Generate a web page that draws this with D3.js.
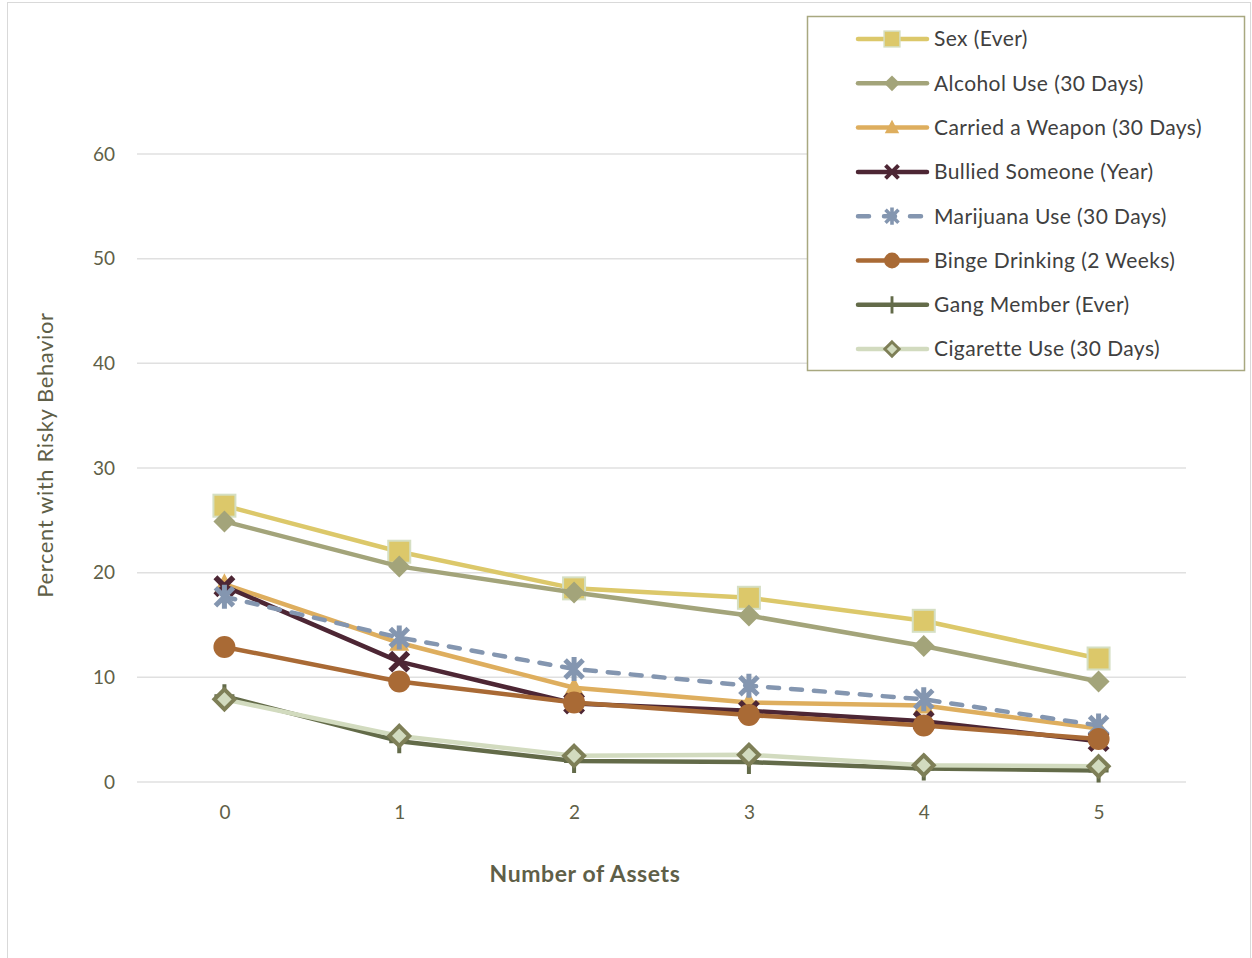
<!DOCTYPE html>
<html>
<head>
<meta charset="utf-8">
<script src="https://cdn.jsdelivr.net/npm/d3@7"></script>
<style>
  body { margin: 0; background: #fff; }
  svg { display: block; }
  text { font-family: Lato, "Open Sans", sans-serif; }
</style>
</head>
<body>
<svg id="chart"></svg>
<script>
var width = 1252;
var height = 958;

// data
var assets = [0, 1, 2, 3, 4, 5];
var yTicks = [0, 10, 20, 30, 40, 50, 60];

var sexEver = [26.4, 22.0, 18.5, 17.6, 15.4, 11.8];
var alcoholUse = [24.9, 20.6, 18.1, 15.9, 13.0, 9.6];
var carriedWeapon = [18.9, 13.3, 9.0, 7.6, 7.3, 5.1];
var bulliedSomeone = [18.7, 11.5, 7.5, 6.8, 5.8, 3.9];
var marijuanaUse = [17.7, 13.8, 10.8, 9.2, 7.9, 5.4];
var bingeDrinking = [12.9, 9.6, 7.6, 6.4, 5.4, 4.1];
var gangMember = [8.2, 3.9, 2.0, 1.9, 1.3, 1.1];
var cigaretteUse = [7.9, 4.4, 2.5, 2.6, 1.6, 1.5];

var series = [
    {name: "Sex (Ever)", values: sexEver, color: "#dcc86a", marker: "square"},
    {name: "Alcohol Use (30 Days)", values: alcoholUse, color: "#a3a47a", marker: "diamond"},
    {name: "Carried a Weapon (30 Days)", values: carriedWeapon, color: "#deae5e", marker: "triangle"},
    {name: "Bullied Someone (Year)", values: bulliedSomeone, color: "#4d2634", marker: "x"},
    {name: "Marijuana Use (30 Days)", values: marijuanaUse, color: "#8496b0", marker: "star", dash: true},
    {name: "Binge Drinking (2 Weeks)", values: bingeDrinking, color: "#a96a35", marker: "circle"},
    {name: "Gang Member (Ever)", values: gangMember, color: "#636b49", marker: "plus"},
    {name: "Cigarette Use (30 Days)", values: cigaretteUse, color: "#d2dbbf", marker: "hollowDiamond"}
];

var svg = d3.select("#chart")
    .attr("width", width)
    .attr("height", height);

// outer chart frame
svg.append("rect")
    .attr("x", 7.5).attr("y", 2.5)
    .attr("width", 1243).attr("height", 970)
    .attr("fill", "#fff")
    .attr("stroke", "#d9d9d9");

var x = d3.scalePoint()
    .domain(assets)
    .range([137, 1186])
    .padding(0.5);

var y = d3.scaleLinear()
    .domain([0, 60])
    .range([782, 154]);

// gridlines
svg.append("g").selectAll("line")
    .data(yTicks)
    .enter().append("line")
    .attr("x1", 137).attr("x2", 1186)
    .attr("y1", function(d) { return y(d); })
    .attr("y2", function(d) { return y(d); })
    .attr("stroke", "#e0e0e0")
    .attr("stroke-width", 1.5);

// y axis labels
var yAxis = svg.append("g")
    .attr("transform", "translate(118,0)")
    .call(d3.axisLeft(y).tickValues(yTicks).tickSize(0).tickPadding(3));
yAxis.select(".domain").remove();
yAxis.selectAll("text")
    .attr("font-size", 19)
    .attr("fill", "#5f5f48")
    .style("font-family", "Lato, sans-serif");

// x axis labels
var xAxis = svg.append("g")
    .attr("transform", "translate(0,802)")
    .call(d3.axisBottom(x).tickSize(0).tickPadding(3));
xAxis.select(".domain").remove();
xAxis.selectAll("text")
    .attr("font-size", 19)
    .attr("fill", "#5f5f48")
    .style("font-family", "Lato, sans-serif");

// axis titles
svg.append("text")
    .attr("transform", "translate(53,455) rotate(-90)")
    .attr("text-anchor", "middle")
    .attr("font-size", 22)
    .attr("letter-spacing", 0.6)
    .attr("fill", "#5f5f48")
    .text("Percent with Risky Behavior");

svg.append("text")
    .attr("x", 585).attr("y", 882)
    .attr("text-anchor", "middle")
    .attr("font-size", 23)
    .attr("letter-spacing", 0.6)
    .attr("font-weight", "bold")
    .attr("fill", "#5f5f48")
    .text("Number of Assets");

// draws one marker centered at 0,0 into g
function drawMarker(g, s) {
    var c = s.color;
    if (s.marker == "square") {
        g.append("rect").attr("x", -11).attr("y", -11).attr("width", 22).attr("height", 22)
            .attr("fill", c).attr("stroke", "#d5dfc3").attr("stroke-width", 2);
    } else if (s.marker == "diamond") {
        g.append("path").attr("d", "M0,-11L11,0L0,11L-11,0Z").attr("fill", c);
    } else if (s.marker == "triangle") {
        g.append("path").attr("d", "M0,-11L10,8L-10,8Z").attr("fill", c);
    } else if (s.marker == "x") {
        g.append("path").attr("d", "M-9,-9L9,9M9,-9L-9,9")
            .attr("stroke", c).attr("stroke-width", 5.5).attr("fill", "none");
    } else if (s.marker == "star") {
        g.append("path").attr("d", "M-9,-9L9,9M9,-9L-9,9M0,-12L0,12")
            .attr("stroke", c).attr("stroke-width", 5).attr("fill", "none");
    } else if (s.marker == "circle") {
        g.append("circle").attr("r", 11).attr("fill", c);
    } else if (s.marker == "plus") {
        g.append("path").attr("d", "M0,-12L0,12M-10,0L10,0")
            .attr("stroke", c).attr("stroke-width", 4).attr("fill", "none");
    } else if (s.marker == "hollowDiamond") {
        g.append("path").attr("d", "M0,-10L10,0L0,10L-10,0Z")
            .attr("fill", c).attr("stroke", "#7e7f57").attr("stroke-width", 4);
    }
}

var line = d3.line()
    .x(function(d, i) { return x(assets[i]); })
    .y(function(d) { return y(d); });

series.forEach(function(s) {
    var g = svg.append("g");
    g.append("path")
        .attr("d", line(s.values))
        .attr("fill", "none")
        .attr("stroke", s.color)
        .attr("stroke-width", 4.5)
        .attr("stroke-linejoin", "round")
        .attr("stroke-linecap", s.dash ? "round" : "butt")
        .attr("stroke-dasharray", s.dash ? "11,12" : null);
    g.selectAll(".mk")
        .data(s.values)
        .enter().append("g")
        .attr("class", "mk")
        .attr("transform", function(d, i) { return "translate(" + x(assets[i]) + "," + y(d) + ")"; })
        .each(function() { drawMarker(d3.select(this), s); });
});

// legend
var legend = svg.append("g");
legend.append("rect")
    .attr("x", 807.5).attr("y", 16.5)
    .attr("width", 437).attr("height", 354)
    .attr("fill", "#fff")
    .attr("stroke", "#a8a880")
    .attr("stroke-width", 1.5);

var rows = legend.selectAll(".row")
    .data(series)
    .enter().append("g")
    .attr("class", "row")
    .attr("transform", function(d, i) { return "translate(0," + (39 + i * 44.3) + ")"; });

rows.append("line")
    .attr("x1", 858).attr("x2", 927)
    .attr("stroke", function(d) { return d.color; })
    .attr("stroke-width", 4.5)
    .attr("stroke-linecap", "round")
    .attr("stroke-dasharray", function(d) { return d.dash ? "11,15" : null; });

rows.each(function(d) {
    var m = d3.select(this).append("g").attr("transform", "translate(892,0) scale(0.72)");
    drawMarker(m, d);
});

rows.append("text")
    .attr("x", 934)
    .attr("dy", "0.35em")
    .attr("font-size", 21)
    .attr("letter-spacing", 0.4)
    .attr("fill", "#404040")
    .text(function(d) { return d.name; });
</script>
</body>
</html>
